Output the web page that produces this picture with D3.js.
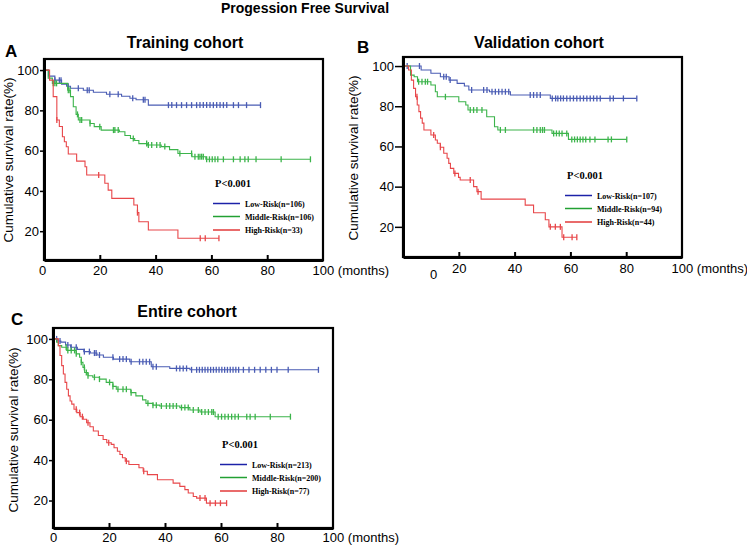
<!DOCTYPE html>
<html>
<head>
<meta charset="utf-8">
<script src="https://cdn.jsdelivr.net/npm/d3@7"></script>
<style>
  body { margin: 0; background: #fff; }
  text { font-family: "Liberation Sans", Arial, sans-serif; }
</style>
</head>
<body>
<svg id="chart" width="747" height="546"></svg>
<script>
// step points [months, survival %] and censor times
const trainLow = [[0,100],[1.6,97],[3.9,95],[6.3,93],[8.1,92],[9.5,91],[14.1,90],[17.7,89],[22.4,88],[27.8,87],[30.8,86],[33,85.3],[37.4,82.6]];
const trainLowCens = [3.9,5.5,6.1,8.7,12.3,15.5,16.2,23.6,26.6,31.8,35.6,36.2,44.6,45.8,47.5,49.3,51.1,52.9,54.7,55.9,57.1,58.3,59.5,60.7,61.9,63.1,64.3,65.5,67.9,69.7,72.6,77.6];
const trainMid = [[0,100],[1.5,96],[3,93.4],[8.5,90],[9.5,86.8],[10.5,81.8],[11.5,78],[12.3,75.2],[16.5,73.5],[18,71.9],[20.5,70.2],[27,69.4],[29,67.5],[31,66],[32.5,65],[34,63.5],[37,62.8],[42,62],[45,60.5],[48,58.6],[53,57],[58,55.7]];
const trainMidCens = [3.3,3.9,4.5,8.7,9.3,12,12.9,13.5,16.5,20,24.9,25.4,26.6,32,36.8,37.4,38.6,40.4,41.6,43.3,48.7,52.9,54.1,55.3,55.9,56.5,57.1,58.3,59.3,60.3,61.3,62.3,64.3,67.9,70.3,72,73.2,76,85,95.5];
const trainHigh = [[0,100],[2,95],[3.3,86.8],[4.6,75.2],[5.5,72],[6.6,66.9],[7.3,64.4],[8,61.9],[8.7,58.3],[11.7,54.8],[14.7,52],[15.3,47.9],[21.8,43.8],[23,40.4],[24.3,36.3],[32.2,33],[33.5,29.2],[34,24.7],[37.4,20.6],[48,16.5]];
const trainHighCens = [4.6,19.6,33.5,56,57.8,62.7];

const validLow = [[0,100],[6.5,98],[10,96.4],[13.4,94.7],[16.5,93],[19.4,91.4],[22,90.1],[23.6,88.1],[31,87.2],[38.5,85.6],[52.8,83.9]];
const validLowCens = [1.5,5.9,14.6,15.5,16.9,24.6,28.9,30.1,31.9,33.1,34.3,35.5,36.7,37.9,45.6,46.8,48,49.2,53.5,54.7,55.5,56.5,57.5,58.7,59.9,61.1,62.3,63.5,64.7,65.9,67.1,68.3,69.5,70.7,74.2,75.4,79,83.8];
const validMid = [[0,100],[2.7,95.5],[4,94.7],[5.2,92.2],[10,90.6],[11.6,87.2],[12.3,84.7],[20,82.2],[22.5,80.6],[23.3,78.1],[30,74.8],[32.8,69.8],[34,68.2],[53.4,66.5],[59.3,63.5]];
const validMidCens = [5.6,6.8,8,8.8,15.2,24.1,25.3,26.5,28.3,34.9,36.7,46.8,48,49.2,50,50.7,54,55,56,57,58.7,60.5,61.5,62.5,63.5,64.5,65.5,67,68.8,73.5,74.7,80.2];
const validHigh = [[0,100],[2,98],[3,93],[3.8,88.9],[4.5,84.7],[5.1,80.6],[5.7,77.3],[6.3,74.1],[6.9,71.6],[7.5,68.2],[10,65.7],[11.6,63.2],[12.3,61.6],[13.4,59.6],[14.6,56.6],[15.8,54.1],[16.4,51.6],[17,49.1],[18.2,46.6],[19.9,44.6],[20.5,43.3],[25.3,40],[26.5,37.5],[28,33.8],[43.8,30.8],[46.8,27],[51,23.5],[52.3,20],[57,14.8]];
const validHighCens = [5,11,13.4,18.6,24.1,26.9,52.8,54.6,56.4,57.6,60.6,62.3];

const entireLow = [[0,100],[1.7,99],[2.8,98.4],[4.5,97],[6.3,95.9],[8.7,94.8],[11,93.7],[13.3,93],[15.7,92],[18,90.9],[21.6,90],[27.4,88.7],[35.1,86.2],[41.7,85.4],[48.9,84.7]];
const entireLowCens = [1.3,2.5,5.3,6.5,8.3,11.2,13,14.8,15.4,16.6,21.4,23.8,25,26.2,27.9,30.9,32.1,33.3,34.5,35.7,36.9,44.1,45.3,46.5,47.7,49.5,51.3,52.3,53.3,54.3,55.3,56.3,57.3,58.3,59.3,60.3,61.3,62.3,63.3,64.3,65.3,66.3,68,70,72,74,76,78,80,84,94.8];
const entireMid = [[0,100],[1.3,98.4],[1.9,96.7],[3.1,95.9],[4.9,94.3],[8.3,92.6],[9.5,90.9],[10.1,88.4],[10.7,85.9],[11.3,83.4],[12.5,81.8],[14.2,81],[16.6,80.1],[19,78.5],[21.4,76.5],[22.6,75.1],[27.8,73.4],[29.6,71.8],[32,69.8],[33.2,68.1],[35.7,67.2],[38.1,66.8],[45.3,66],[48.9,64.8],[52.5,63.8],[57.9,61.5]];
const entireMidCens = [4.7,5.3,6.5,7.7,8.3,10.1,11.2,11.9,12.5,14.8,16.6,20.2,21.4,23.2,25,26.2,27.9,33.9,35.7,36.9,38.7,40.5,41.7,42.9,44.1,45.9,47.1,48.3,50.1,51.9,53.1,54.3,55.5,56.7,57.3,59,60.2,61.4,62.6,63.8,65,66.2,69.2,70.4,72.2,77.6,84.8];
const entireHigh = [[0,100],[1.9,96.7],[2.5,91.8],[3.1,86.8],[3.7,82.6],[4.3,78.5],[4.9,75.1],[5.5,71.8],[6.1,69.3],[6.7,67.7],[7.5,65.2],[8.5,63.5],[9.7,61.5],[10.8,60.2],[12,58.5],[13.2,56.5],[14.4,54.4],[16.2,52.2],[17.9,50.2],[19.2,48.6],[20.8,47.8],[21.8,46.1],[23,44.4],[23.9,42.8],[24.8,41.2],[25.8,39.5],[27.1,37.8],[30.7,36.2],[32.2,34.5],[33.7,32.8],[37.3,30.3],[42.9,28.6],[45.3,27],[47.1,25.4],[48.3,23.7],[50.1,22],[51.3,21.2],[54.8,18.7]];
const entireHighCens = [8.3,9.5,10.5,12.5,19.9,26.2,32.4,52.5,54.3,56.1,58,59.8,62];

const groupNames = ['Low-Risk', 'Middle-Risk', 'High-Risk'];
const trainN = [106, 106, 33];
const validN = [107, 94, 44];
const entireN = [213, 200, 77];
const xTicks = [0, 20, 40, 60, 80, 100];
const yTicks = [20, 40, 60, 80, 100];

const curveColors = ['#4a5cb4', '#3cb44b', '#e8474a'];
const legendColors = ['#1c22a8', '#22a033', '#e23a3a'];

const svg = d3.select('#chart');

svg.append('text')
    .attr('x', 305).attr('y', 13)
    .attr('text-anchor', 'middle')
    .style('font-size', '14px').style('font-weight', 'bold')
    .text('Progession Free Survival');

const panels = [
    { letter: 'A', title: 'Training cohort', left: 44, right: 323, top: 59, bottom: 260, yMin: 5.7, yMax: 105.5,
      letterX: 5, letterY: 57, titleX: 185, titleY: 48, yLabelX: 13, yLabelY: 160,
      xPad: 6, yTick: 4, yPad: 1, zeroDx: -2, zeroDy: 0, legX: 213, legY: 187, n: trainN,
      curves: [[trainLow, trainLowCens], [trainMid, trainMidCens], [trainHigh, trainHighCens]] },
    { letter: 'B', title: 'Validation cohort', left: 403, right: 682, top: 57, bottom: 257, yMin: 5, yMax: 104.5,
      letterX: 357, letterY: 53, titleX: 539, titleY: 48, yLabelX: 358, yLabelY: 158,
      xPad: 7, yTick: 8, yPad: 1, zeroDx: 30, zeroDy: 6, legX: 565, legY: 179, n: validN,
      curves: [[validLow, validLowCens], [validMid, validMidCens], [validHigh, validHighCens]] },
    { letter: 'C', title: 'Entire cohort', left: 53, right: 333, top: 328, bottom: 528, yMin: 6.4, yMax: 105.4,
      letterX: 11, letterY: 325, titleX: 187, titleY: 317, yLabelX: 18, yLabelY: 430,
      xPad: 5, yTick: 4, yPad: 1, zeroDx: 0, zeroDy: 0, legX: 220, legY: 448, n: entireN,
      curves: [[entireLow, entireLowCens], [entireMid, entireMidCens], [entireHigh, entireHighCens]] }
];

function survAt(steps, t) {
    const i = d3.bisector(d => d[0]).right(steps, t) - 1;
    return steps[Math.max(0, i)][1];
}

panels.forEach(p => {
    const x = d3.scaleLinear().domain([0, 100]).range([p.left, p.right]);
    const y = d3.scaleLinear().domain([p.yMin, p.yMax]).range([p.bottom, p.top]);
    const g = svg.append('g');

    // letter and title
    g.append('text').attr('x', p.letterX).attr('y', p.letterY)
        .style('font-size', '17px').style('font-weight', 'bold').text(p.letter);
    g.append('text').attr('x', p.titleX).attr('y', p.titleY).attr('text-anchor', 'middle')
        .style('font-size', '16px').style('font-weight', 'bold').text(p.title);

    // curves with censor marks
    const line = d3.line().x(d => x(d[0])).y(d => y(d[1])).curve(d3.curveStepAfter);
    p.curves.forEach((c, i) => {
        const steps = c[0], cens = c[1];
        const end = d3.max(cens);
        const pts = steps.concat([[end, steps[steps.length - 1][1]]]);
        g.append('path').attr('d', line(pts))
            .attr('fill', 'none').attr('stroke', curveColors[i]).attr('stroke-width', 1.1);
        g.selectAll(null).data(cens).enter().append('line')
            .attr('x1', d => x(d)).attr('x2', d => x(d))
            .attr('y1', d => y(survAt(steps, d)) - 3)
            .attr('y2', d => y(survAt(steps, d)) + 3)
            .attr('stroke', curveColors[i]).attr('stroke-width', 1.3);
    });

    // frame
    g.append('rect').attr('x', p.left).attr('y', p.top)
        .attr('width', p.right - p.left).attr('height', p.bottom - p.top)
        .attr('fill', 'none').attr('stroke', '#000').attr('stroke-width', 2.2);

    // x axis, ticks point inward
    const xAxis = d3.axisBottom(x).tickValues(xTicks)
        .tickSizeInner(-5).tickSizeOuter(0).tickPadding(p.xPad)
        .tickFormat(d => d === 100 ? '100 (months)' : d);
    const xg = g.append('g').attr('transform', `translate(0,${p.bottom})`).call(xAxis);
    xg.select('.domain').attr('stroke-width', 3);
    xg.selectAll('.tick line').attr('stroke-width', 2)
        .attr('display', d => (d === 0 || d === 100) ? 'none' : null);
    xg.selectAll('.tick text').style('font-size', '13px').attr('fill', '#000')
        .style('font-family', '"Liberation Sans", Arial, sans-serif');
    xg.selectAll('.tick').filter(d => d === 100).select('text')
        .attr('text-anchor', 'start').attr('x', -11);
    xg.selectAll('.tick').filter(d => d === 0).select('text')
        .attr('x', p.zeroDx).attr('y', p.xPad + p.zeroDy);

    // y axis
    const yAxis = d3.axisLeft(y).tickValues(yTicks)
        .tickSizeInner(p.yTick).tickSizeOuter(0).tickPadding(p.yPad);
    const yg = g.append('g').attr('transform', `translate(${p.left},0)`).call(yAxis);
    yg.select('.domain').attr('stroke-width', 3);
    yg.selectAll('.tick line').attr('stroke-width', 1.5);
    yg.selectAll('.tick text').style('font-size', '13px').attr('fill', '#000')
        .style('font-family', '"Liberation Sans", Arial, sans-serif');

    g.append('text')
        .attr('transform', `translate(${p.yLabelX},${p.yLabelY}) rotate(-90)`)
        .attr('text-anchor', 'middle')
        .style('font-size', '13.5px')
        .text('Cumulative survival rate(%)');

    // legend
    const leg = g.append('g').attr('transform', `translate(${p.legX},${p.legY})`);
    leg.append('text').attr('x', 2).attr('y', 0)
        .style('font-family', '"Liberation Serif", "Times New Roman", serif')
        .style('font-size', '10.5px').style('font-weight', 'bold')
        .text('P<0.001');
    const rows = [16.5, 29.5, 43];
    groupNames.forEach((name, i) => {
        leg.append('line').attr('x1', 0).attr('x2', 27)
            .attr('y1', rows[i]).attr('y2', rows[i])
            .attr('stroke', legendColors[i]).attr('stroke-width', 1.5);
        leg.append('text').attr('x', 32).attr('y', rows[i] + 3)
            .style('font-family', '"Liberation Serif", "Times New Roman", serif')
            .style('font-size', '8px').style('font-weight', 'bold')
            .text(`${name}(n=${p.n[i]})`);
    });
});
</script>
</body>
</html>
